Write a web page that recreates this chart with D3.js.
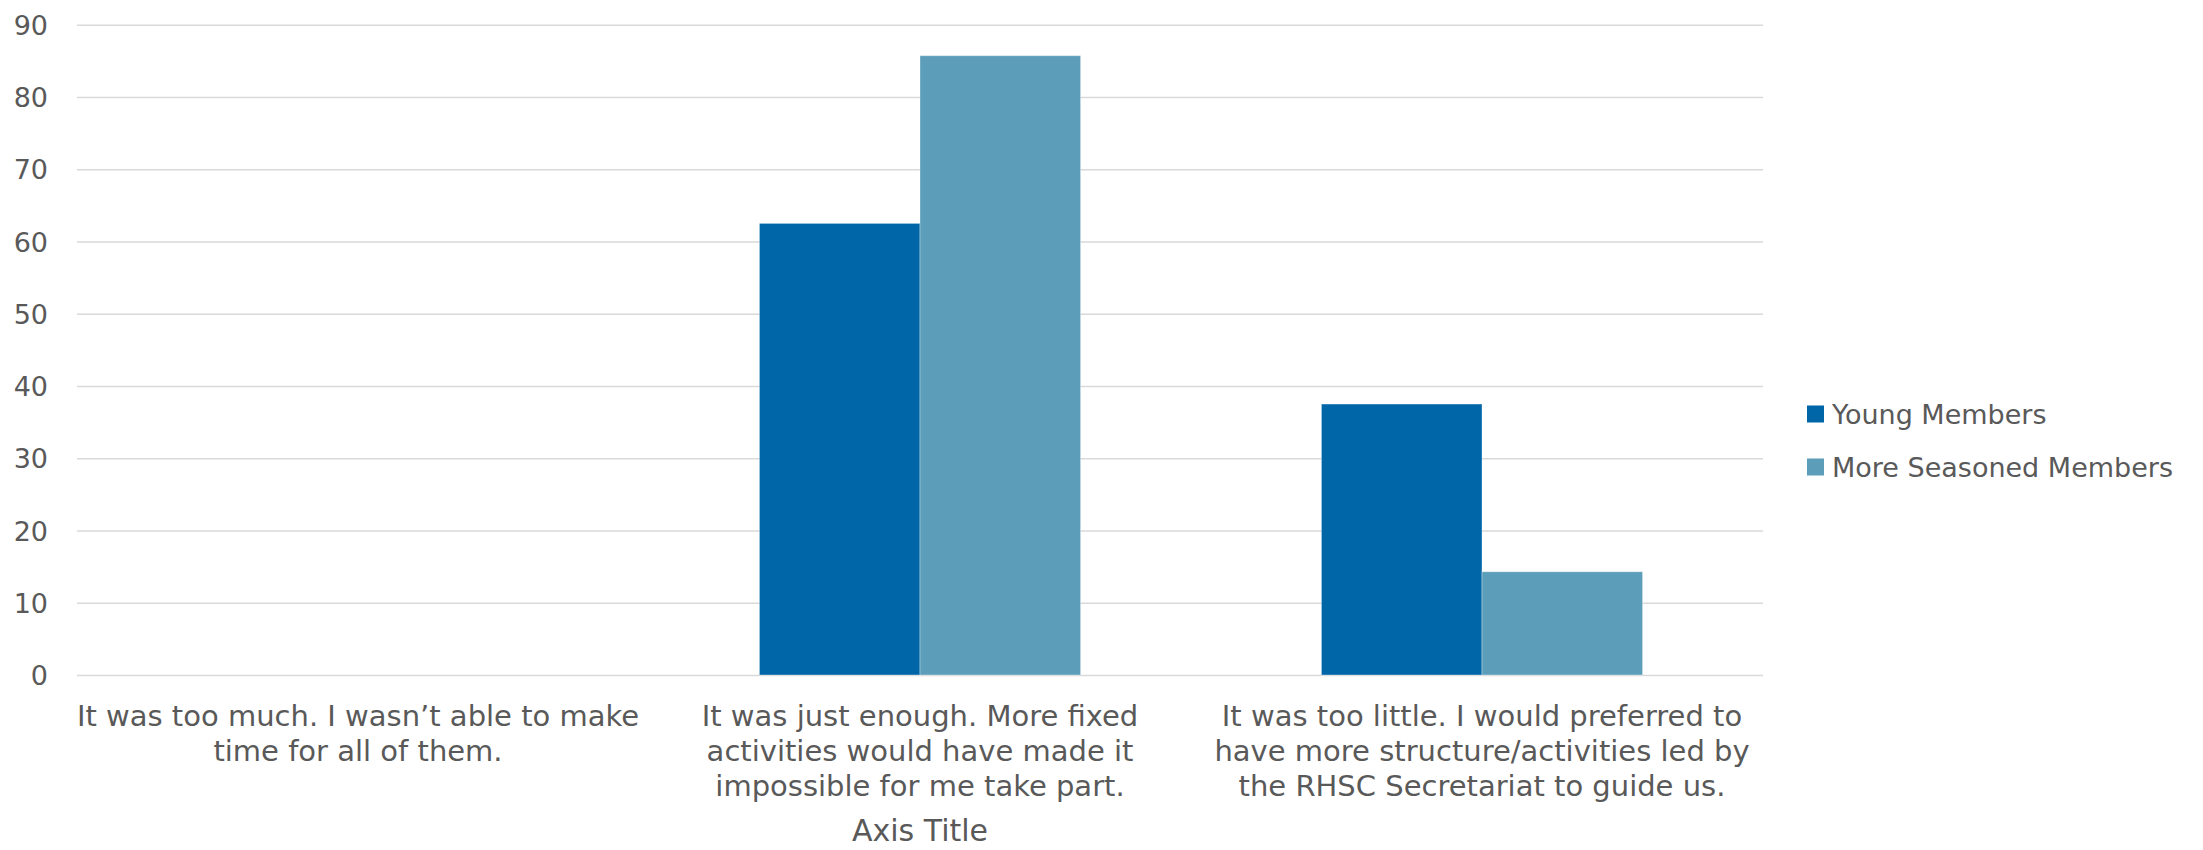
<!DOCTYPE html>
<html>
<head>
<meta charset="utf-8">
<script src="https://cdn.jsdelivr.net/npm/d3@7"></script>
<style>
  html, body { margin: 0; padding: 0; background: #ffffff; }
  svg { display: block; }
  text { font-family: "DejaVu Sans", Verdana, sans-serif; fill: #595959; }
</style>
</head>
<body>
<svg id="chart" width="2203" height="850"></svg>
<script>
// Response categories (line breaks mark the label wrapping)
const categories = [
  "It was too much. I wasn\u2019t able to make\ntime for all of them.",
  "It was just enough. More fixed\nactivities would have made it\nimpossible for me take part.",
  "It was too little. I would preferred to\nhave more structure/activities led by\nthe RHSC Secretariat to guide us."
];
const seriesNames = ["Young Members", "More Seasoned Members"];
const youngMembers = [0, 62.5, 37.5];
const seasonedMembers = [0, 85.71, 14.29];
const yTicks = [0, 10, 20, 30, 40, 50, 60, 70, 80, 90];
const colors = ["#0066A8", "#5C9DB9"];
const axisTitle = "Axis Title";

const seriesValues = [youngMembers, seasonedMembers];
const rows = categories.map((c, i) => ({
  category: c,
  values: seriesNames.map((s, j) => ({ series: s, value: seriesValues[j][i] }))
}));

const svg = d3.select("#chart");

const plot = { left: 77, right: 1763, top: 24.7, bottom: 675 };

const x0 = d3.scaleBand().domain(categories).range([plot.left, plot.right]).padding(0);
const x1 = d3.scaleBand().domain(seriesNames).range([0, x0.bandwidth()])
  .paddingInner(0).paddingOuter(0.75);
const y = d3.scaleLinear().domain([0, 90]).range([plot.bottom, plot.top]);
const color = d3.scaleOrdinal().domain(seriesNames).range(colors);

// Horizontal gridlines
const yAxis = d3.axisLeft(y)
  .tickValues(yTicks)
  .tickSize(-(plot.right - plot.left))
  .tickPadding(29)
  .tickFormat(d3.format("d"));

const gy = svg.append("g")
  .attr("transform", `translate(${plot.left},0)`)
  .call(yAxis);
gy.select(".domain").remove();
gy.selectAll(".tick line").attr("stroke", "#D9D9D9").attr("stroke-width", 1.5);
gy.selectAll(".tick text")
  .style("font-size", "27px")
  .attr("fill", "#595959")
  .attr("dy", "0.36em");

// Bars
const groups = svg.append("g").selectAll("g")
  .data(rows)
  .join("g")
  .attr("transform", d => `translate(${x0(d.category)},0)`);

groups.selectAll("rect")
  .data(d => d.values.filter(v => v.value > 0))
  .join("rect")
  .attr("x", d => x1(d.series))
  .attr("width", x1.bandwidth())
  .attr("y", d => y(d.value))
  .attr("height", d => y(0) - y(d.value))
  .attr("fill", d => color(d.series))
  .attr("stroke", "rgba(255,255,255,0.35)")
  .attr("stroke-width", 1);

// Category labels
const xAxis = d3.axisBottom(x0).tickSize(0).tickPadding(0);
const gx = svg.append("g")
  .attr("transform", `translate(0,${plot.bottom})`)
  .call(xAxis);
gx.select(".domain").remove();
gx.selectAll(".tick text").each(function (d) {
  const t = d3.select(this);
  t.text(null)
    .attr("y", 0)
    .attr("dy", null)
    .attr("fill", "#595959")
    .style("font-size", "29px")
    .attr("text-anchor", "middle");
  d.split("\n").forEach((line, i) => {
    t.append("tspan")
      .attr("x", 0)
      .attr("y", 51 + i * 35)
      .text(line);
  });
});

// Axis title
svg.append("text")
  .attr("x", (plot.left + plot.right) / 2)
  .attr("y", 841)
  .attr("text-anchor", "middle")
  .style("font-size", "30px")
  .text(axisTitle);

// Legend
const legend = svg.append("g").selectAll("g")
  .data(seriesNames)
  .join("g")
  .attr("transform", (d, i) => `translate(1807,${414 + i * 53})`);
legend.append("rect")
  .attr("x", 0).attr("y", -8.5)
  .attr("width", 17).attr("height", 17)
  .attr("fill", d => color(d));
legend.append("text")
  .attr("x", 25)
  .attr("y", 0)
  .attr("dy", "0.36em")
  .style("font-size", "27px")
  .text(d => d);
</script>
</body>
</html>
